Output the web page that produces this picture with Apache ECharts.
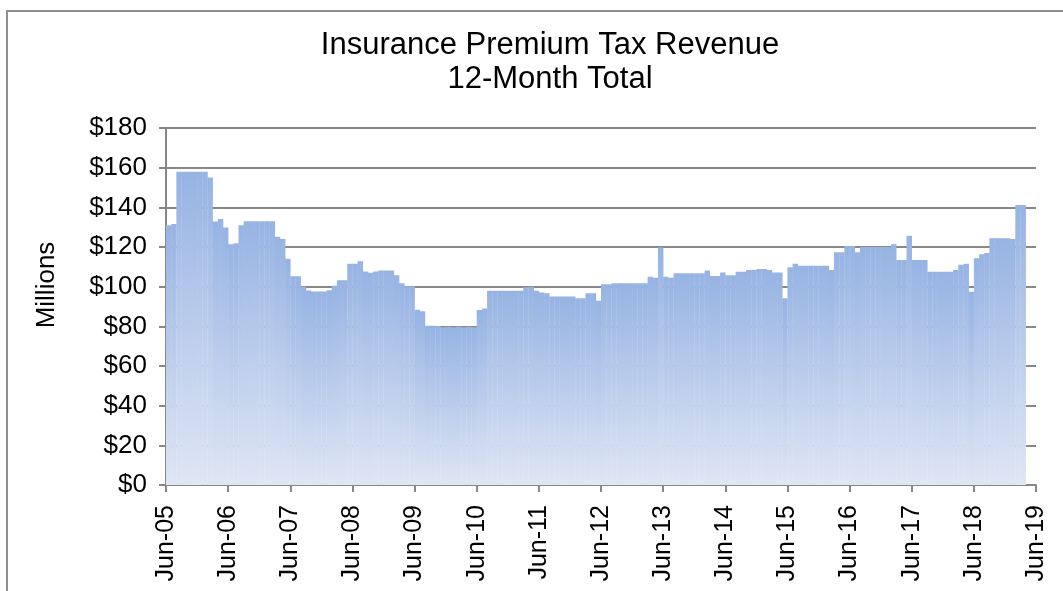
<!DOCTYPE html>
<html>
<head>
<meta charset="utf-8">
<script src="https://cdn.jsdelivr.net/npm/echarts@6/dist/echarts.min.js"></script>
<style>html,body{margin:0;padding:0;background:#fff;}#c{width:1063px;height:591px;}</style>
</head>
<body>
<div id="c"></div>
<script>
// Monthly 12-month total, $ millions, Jun-05 .. Mar-19
const values = [
  131.0, 131.6, 158.0, 158.0, 158.0, 158.0, 158.0, 158.0, 155.0, 132.8, 134.1, 129.8,
  121.4, 121.9, 131.0, 133.0, 133.0, 133.0, 133.0, 133.0, 133.0, 125.2, 124.0, 114.1,
  105.2, 105.2, 100.0, 98.1, 97.6, 97.6, 97.6, 98.2, 100.5, 103.2, 103.2, 111.6,
  111.6, 112.8, 107.6, 107.0, 107.7, 108.2, 108.2, 108.2, 105.7, 101.7, 100.2, 100.2,
  88.4, 87.6, 80.3, 80.3, 80.2, 79.6, 79.8, 79.5, 79.8, 79.5, 79.8, 79.5,
  88.2, 89.0, 98.0, 98.0, 98.0, 98.0, 98.0, 98.0, 98.0, 99.7, 100.0, 98.0,
  97.0, 96.7, 95.0, 95.0, 95.0, 95.0, 95.0, 94.1, 94.1, 96.7, 96.7, 92.9,
  101.2, 101.2, 101.7, 101.7, 101.7, 101.7, 101.7, 101.7, 101.7, 105.0, 104.5, 119.7,
  105.0, 104.5, 106.8, 106.8, 106.8, 106.8, 106.8, 106.8, 108.1, 105.4, 105.4, 107.1,
  105.8, 105.8, 107.5, 107.5, 108.4, 108.4, 108.9, 108.9, 108.4, 107.2, 107.2, 94.1,
  109.8, 111.5, 110.5, 110.5, 110.5, 110.5, 110.5, 110.5, 108.4, 117.3, 117.3, 120.5,
  120.5, 117.3, 120.0, 120.0, 120.0, 120.0, 120.0, 120.0, 121.4, 113.5, 113.5, 125.7,
  113.5, 113.5, 113.5, 107.5, 107.5, 107.5, 107.5, 107.5, 108.4, 111.0, 111.6, 97.5,
  114.3, 116.4, 117.0, 124.4, 124.4, 124.4, 124.4, 124.0, 141.2, 141.2
];
const xTickLabels = ['Jun-05','Jun-06','Jun-07','Jun-08','Jun-09','Jun-10','Jun-11','Jun-12','Jun-13','Jun-14','Jun-15','Jun-16','Jun-17','Jun-18','Jun-19'];
const yTicks = [0, 20, 40, 60, 80, 100, 120, 140, 160, 180];

const FONT = '"Liberation Sans", Arial, sans-serif';
const GRAY = '#888888';
const chart = echarts.init(document.getElementById('c'));
const data = values.map((v, i) => [i, v]);

chart.setOption({
  animation: false,
  backgroundColor: '#fff',
  title: {
    text: 'Insurance Premium Tax Revenue\n12-Month Total',
    left: 545, top: 23, textAlign: 'center',
    textStyle: { fontFamily: FONT, fontSize: 31, fontWeight: 'normal', color: '#000', lineHeight: 34 }
  },
  graphic: [
    { type: 'rect', silent: true, shape: { x: 7, y: 11, width: 1200, height: 800 },
      style: { fill: 'none', stroke: '#8e8e8e', lineWidth: 2 } },
    { type: 'text', silent: true, x: 47, y: 285, rotation: Math.PI / 2,
      style: { text: 'Millions', fontFamily: FONT, fontSize: 26, fill: '#000', align: 'center', verticalAlign: 'middle' } }
  ],
  grid: { left: 166, right: 27, top: 128, bottom: 106, containLabel: false },
  xAxis: {
    type: 'value', min: 0, max: (xTickLabels.length - 1) * 12, interval: 12,
    axisLine: { show: true, onZero: false, lineStyle: { color: GRAY, width: 2 } },
    axisTick: { show: true, length: 7, lineStyle: { color: GRAY, width: 2 } },
    splitLine: { show: false },
    axisLabel: {
      rotate: 90, margin: 20, fontFamily: FONT, fontSize: 25, color: '#000',
      formatter: v => xTickLabels[Math.round(v / 12)] || ''
    }
  },
  yAxis: {
    type: 'value', min: yTicks[0], max: yTicks[yTicks.length - 1], interval: 20,
    axisLine: { show: true, lineStyle: { color: GRAY, width: 2 } },
    axisTick: { show: true, length: 7, lineStyle: { color: GRAY, width: 2 } },
    splitLine: { show: true, lineStyle: { color: GRAY, width: 2 } },
    axisLabel: { margin: 19, fontFamily: FONT, fontSize: 26, color: '#000', formatter: v => '$' + v }
  },
  series: [{
    type: 'custom',
    data: data,
    encode: { x: 0, y: 1 },
    renderItem: function (params, api) {
      const i = api.value(0), v = api.value(1);
      const p0 = api.coord([i, v]);
      const p1 = api.coord([i + 1, 0]);
      return {
        type: 'rect',
        shape: { x: p0[0], y: p0[1], width: p1[0] - p0[0] + 0.3, height: p1[1] - p0[1] },
        style: {
          fill: new echarts.graphic.LinearGradient(0, 0, 0, 1, [
            { offset: 0, color: '#96b3e3' },
            { offset: 1, color: '#dfe6f4' }
          ])
        }
      };
    }
  }]
});
</script>
</body>
</html>
